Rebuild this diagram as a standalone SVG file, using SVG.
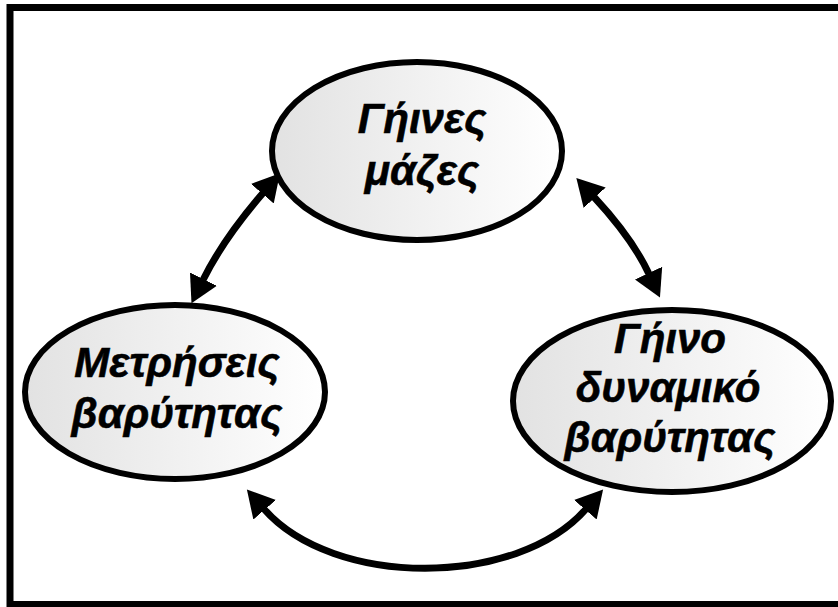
<svg xmlns="http://www.w3.org/2000/svg" width="838" height="607" viewBox="0 0 838 607">
<style>
.node{stroke:#000;stroke-width:6;fill:url(#g)}
.lbl{font-family:"Liberation Sans",Arial,sans-serif;font-weight:bold;font-style:italic;font-size:42px;fill:#000;stroke:#000;stroke-width:0.6;text-anchor:middle}
.conn{fill:none;stroke:#000;stroke-width:7}
</style>
<defs>
<linearGradient id="g" x1="0" y1="0" x2="1" y2="0">
<stop offset="0" stop-color="#e2e2e2"/>
<stop offset="1" stop-color="#ffffff"/>
</linearGradient>
<marker id="ah" markerUnits="userSpaceOnUse" markerWidth="30" markerHeight="32" refX="1" refY="15" orient="auto-start-reverse" viewBox="0 0 30 30">
<path d="M0,0 L27,15 L0,30 Z" fill="#000"/>
</marker>
</defs>
<rect x="10" y="7.5" width="845" height="597" fill="#fff" stroke="#000" stroke-width="7"/>
<g id="connectors">
<path class="conn" d="M263,193 Q223,239.5 203,280" marker-start="url(#ah)" marker-end="url(#ah)"/>
<path class="conn" d="M594,197 Q632.5,238.5 649,274" marker-start="url(#ah)" marker-end="url(#ah)"/>
<path class="conn" d="M264,509 C333,588 517,588 586,509" marker-start="url(#ah)" marker-end="url(#ah)"/>
</g>
<g id="n-top">
<ellipse class="node" cx="417" cy="151" rx="145" ry="89"/>
<text class="lbl" x="422" y="133">Γήινες</text>
<text class="lbl" x="422" y="185">μάζες</text>
</g>
<g id="n-left">
<ellipse class="node" cx="175" cy="392" rx="150" ry="87"/>
<text class="lbl" x="177" y="377">Μετρήσεις</text>
<text class="lbl" x="177" y="428">βαρύτητας</text>
</g>
<g id="n-right">
<ellipse class="node" cx="672" cy="401" rx="159" ry="91"/>
<text class="lbl" x="670" y="353">Γήινο</text>
<text class="lbl" x="668" y="402">δυναμικό</text>
<text class="lbl" x="670" y="452">βαρύτητας</text>
</g>
</svg>
